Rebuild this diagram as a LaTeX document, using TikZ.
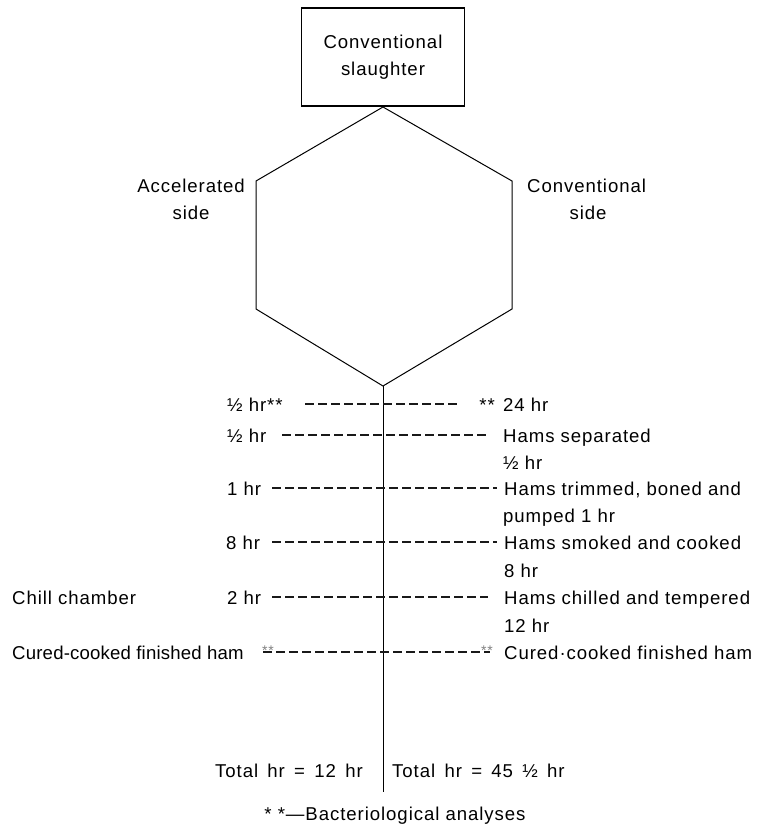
\documentclass[tikz,border=0pt]{standalone}
\usepackage{fontspec}
\setmainfont{Liberation Sans}[LetterSpace=5]
\newcommand\widewords{\spaceskip=0.5em\relax}
\begin{document}
\begin{tikzpicture}[x=1pt,y=-1pt,
  txt/.style={inner sep=0pt, font=\fontsize{18.6pt}{27pt}\selectfont},
  lw/.style={txt, anchor=base west},
  lc/.style={txt, anchor=base},
  le/.style={txt, anchor=base east},
  boxnode/.style={draw, line width=1.1pt, minimum width=163pt, minimum height=98pt,
    inner sep=0pt, align=center, font=\fontsize{18.6pt}{27pt}\selectfont},
  frame/.style={line width=1pt},
  hourline/.style={line width=1.8pt, dash pattern=on 9pt off 4pt, black!90},
  graystar/.style={inner sep=0pt, anchor=base west, font=\fontsize{14pt}{14pt}\selectfont, black!50}]
\useasboundingbox (0,0) rectangle (765,825);

% start box
\node[boxnode] (slaughter) at (383,57) {Conventional\\slaughter};

% hexagon splitting the carcass into the two sides
\coordinate (apex) at (383,107);
\coordinate (ul) at (256,181);
\coordinate (ll) at (256,309);
\coordinate (bot) at (383,386);
\coordinate (lr) at (512,309);
\coordinate (ur) at (512,181);
\draw[frame] (apex) -- (ul) -- (ll) -- (bot) -- (lr) -- (ur) -- cycle;

\node[le] (accel) at (245,192) {Accelerated};
\node[lc] (accelside) at (191,219) {side};
\node[lw] (conv) at (527,192) {Conventional};
\node[lc] (convside) at (588,219) {side};

% central time axis
\coordinate (axisend) at (383,792);
\draw[frame] (bot) -- (axisend);

% left column: accelerated process
\node[lw] (a1) at (227,411) {½ hr**};
\node[lw] (a2) at (227,442) {½ hr};
\node[lw] (a3) at (227,495) {1 hr};
\node[lw] (a4) at (226,549) {8 hr};
\node[lw] (a5) at (227,604) {2 hr};
\node[lw] (chill) at (12,604) {Chill chamber};
\node[lw] (a6) at (12,659) {\addfontfeature{LetterSpace=1}Cured-cooked finished ham};

% right column: conventional process
\node[le] (c1star) at (495,411) {**};
\node[lw] (c1) at (503,411) {24 hr};
\node[lw] (c2) at (503,442) {Hams separated};
\node[lw] (c2t) at (503,469) {½ hr};
\node[lw] (c3) at (504,495) {Hams trimmed, boned and};
\node[lw] (c3t) at (503,522) {pumped 1 hr};
\node[lw] (c4) at (504,549) {Hams smoked and cooked};
\node[lw] (c4t) at (504,577) {8 hr};
\node[lw] (c5) at (504,604) {Hams chilled and tempered};
\node[lw] (c5t) at (504,632) {12 hr};
\node[lw] (c6) at (504,659) {Cured·cooked finished ham};

% step lines joining the two columns
\draw[hourline] (305,404) -- (460,404);
\draw[hourline] (282,435) -- (488,435);
\draw[hourline] (272,488) -- (497,488);
\draw[hourline] (272,542) -- (497,542);
\draw[hourline] (272,597) -- (488,597);
\draw[hourline] (263,652) -- (490,652);

% sampling marks on the finished ham
\node[graystar] (s1) at (262,655) {**};
\node[graystar] (s2) at (481,655) {**};

% totals and footnote
\node[le] (tot1) at (363,777) {\widewords Total hr = 12 hr};
\node[lw] (tot2) at (392,777) {\widewords Total hr = 45 ½ hr};
\node[lc] (note) at (395,820) {* *—Bacteriological analyses};
\end{tikzpicture}
\end{document}
